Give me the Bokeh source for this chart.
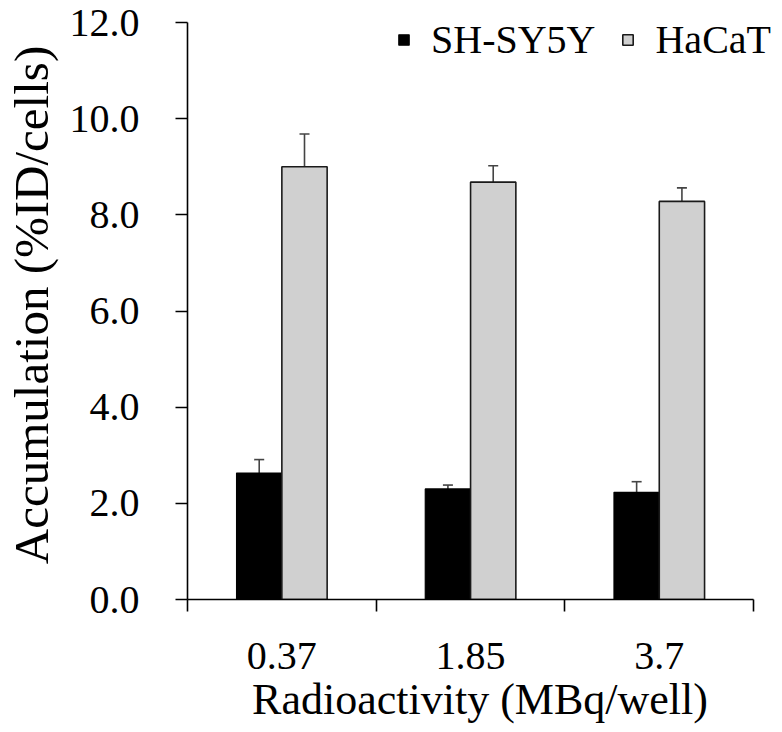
from bokeh.plotting import figure
from bokeh.models import (Range1d, FixedTicker, PrintfTickFormatter, ColumnDataSource,
                          Whisker, TeeHead, Legend, LegendItem)
from bokeh.transform import dodge
from bokeh.embed import file_html
from bokeh.resources import INLINE

# ---- data ----
categories = ["0.37", "1.85", "3.7"]
shsy5y = [2.63, 2.30, 2.23]
shsy5y_err = [0.28, 0.08, 0.22]
hacat = [9.00, 8.68, 8.28]
hacat_err = [0.68, 0.34, 0.28]
y_ticks = [0, 2, 4, 6, 8, 10, 12]

FONT = "Liberation Serif"
n = len(categories)
x = [i + 0.5 for i in range(n)]
bounds = [i for i in range(n + 1)]

src = ColumnDataSource(dict(
    x=x,
    sh=shsy5y,
    sh_up=[v + e for v, e in zip(shsy5y, shsy5y_err)],
    ha=hacat,
    ha_up=[v + e for v, e in zip(hacat, hacat_err)],
    ha_lo=[v - e for v, e in zip(hacat, hacat_err)],
))

p = figure(width=774, height=728, x_range=Range1d(0, n + 0.1), y_range=Range1d(0, 12.25),
           output_backend="svg", toolbar_location=None,
           min_border_left=186, min_border_right=2, min_border_top=10, min_border_bottom=129)
p.outline_line_color = None
p.xgrid.visible = False
p.ygrid.visible = False
p.background_fill_color = "white"

bw = 0.24
r1 = p.vbar(x=dodge("x", -bw / 2, range=p.x_range), top="sh", width=bw, source=src,
            fill_color="black", line_color="black", line_width=1.2)
r2 = p.vbar(x=dodge("x", bw / 2, range=p.x_range), top="ha", width=bw, source=src,
            fill_color="#d0d0d0", line_color="#1a1a1a", line_width=1.6)

ecol = "#444444"
w1 = Whisker(source=src, base=dodge("x", -bw / 2, range=p.x_range), upper="sh_up", lower="sh",
             line_color=ecol, line_width=1.6,
             upper_head=TeeHead(size=10, line_color=ecol, line_width=1.6), lower_head=None)
w2 = Whisker(source=src, base=dodge("x", bw / 2, range=p.x_range), upper="ha_up", lower="ha_lo",
             line_color=ecol, line_width=1.6,
             upper_head=TeeHead(size=10, line_color=ecol, line_width=1.6),
             lower_head=TeeHead(size=10, line_color=ecol, line_width=1.6))
p.add_layout(w1)
p.add_layout(w2)

# x axis: labels at category centres, ticks at category boundaries
xa = p.xaxis[0]
xa.bounds = (0, n)
xa.ticker = FixedTicker(ticks=x, minor_ticks=bounds)
xa.major_label_overrides = {xv: c for xv, c in zip(x, categories)}
xa.major_tick_out = 0
xa.major_tick_in = 0
xa.minor_tick_out = 12
xa.minor_tick_in = 0
xa.minor_tick_line_color = "black"
xa.minor_tick_line_width = 1.6
xa.axis_line_color = "black"
xa.axis_line_width = 1.6
xa.major_label_text_font = FONT
xa.major_label_text_font_size = "40px"
xa.major_label_text_color = "black"
xa.major_label_standoff = 31
xa.axis_label = "Radioactivity (MBq/well)"
xa.axis_label_text_font = FONT
xa.axis_label_text_font_size = "44px"
xa.axis_label_text_font_style = "normal"
xa.axis_label_text_color = "black"
xa.axis_label_standoff = 3

ya = p.yaxis[0]
ya.bounds = (0, 12)
ya.ticker = FixedTicker(ticks=y_ticks)
ya.formatter = PrintfTickFormatter(format="%.1f")
ya.major_tick_out = 12
ya.major_tick_in = 0
ya.minor_tick_line_color = None
ya.major_tick_line_color = "black"
ya.major_tick_line_width = 1.6
ya.axis_line_color = "black"
ya.axis_line_width = 1.6
ya.major_label_text_font = FONT
ya.major_label_text_font_size = "40px"
ya.major_label_text_color = "black"
ya.major_label_standoff = 36
ya.axis_label = "Accumulation (%ID/cells)"
ya.axis_label_text_font = FONT
ya.axis_label_text_font_size = "49px"
ya.axis_label_text_font_style = "normal"
ya.axis_label_text_color = "black"
ya.axis_label_standoff = 8

legend = Legend(items=[LegendItem(label="SH-SY5Y", renderers=[r1]),
                       LegendItem(label="HaCaT", renderers=[r2])],
                orientation="horizontal", location=(210, 536),
                glyph_width=13, glyph_height=13, label_standoff=21, spacing=26,
                padding=0, margin=0, border_line_color=None, background_fill_alpha=0,
                label_text_font=FONT, label_text_font_size="40px", label_text_color="black",
                label_height=48)
p.add_layout(legend)

open("out.html", "w").write(file_html(p, INLINE))
